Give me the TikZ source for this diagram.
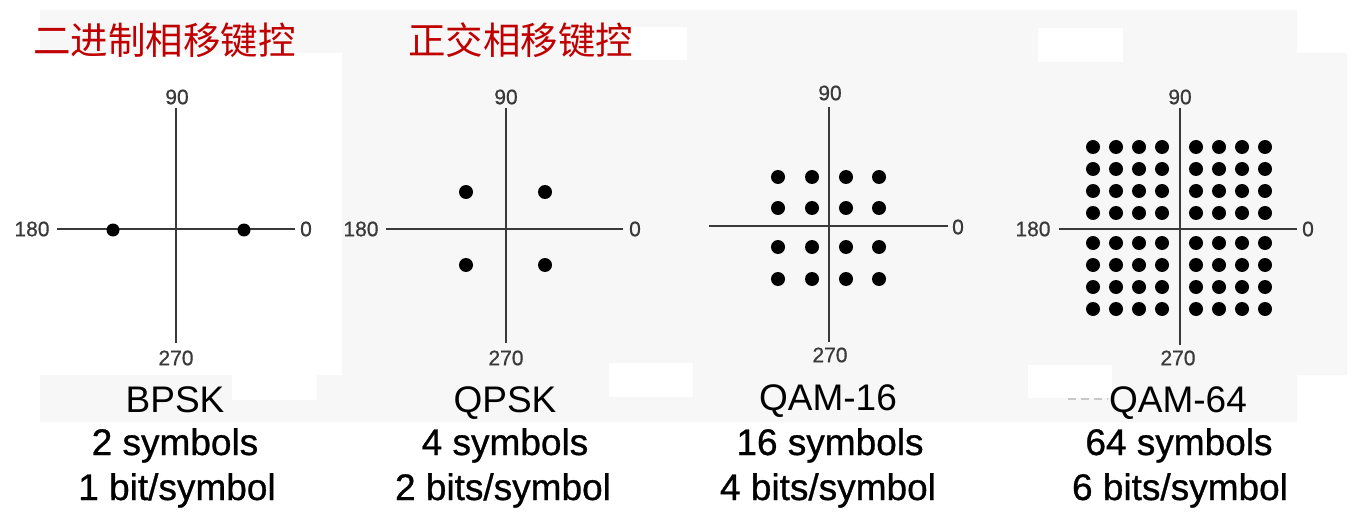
\documentclass[tikz,border=0pt]{standalone}
\usepackage{fontspec}
\setmainfont{Liberation Sans}
\newfontfamily\cjk{Noto Sans CJK SC}
\newfontfamily\heavier[FakeBold=0.8]{Liberation Sans}
\newfontfamily\lblfont[FakeBold=0.7]{Liberation Sans}
\definecolor{panel}{RGB}{247,247,247}
\definecolor{axisc}{RGB}{58,58,58}
\definecolor{titlered}{RGB}{192,0,0}
\definecolor{faint}{RGB}{200,200,200}
\begin{document}
\begin{tikzpicture}[x=1pt,y=-1pt,
  axis/.style={draw=axisc, line width=1.8pt},
  dotc/.style={fill=black},
  anglab/.style={text=axisc, font=\lblfont\fontsize{21}{21}\selectfont, inner sep=0pt},
  titletext/.style={text=titlered, font=\cjk\fontsize{37.5}{38}\selectfont, inner sep=0pt, anchor=west},
  captext/.style={text=black, font=\fontsize{37}{38}\selectfont, inner sep=0pt, anchor=base},
  capbold/.style={captext, font=\heavier\fontsize{37}{38}\selectfont},
]
\useasboundingbox (0,0) rectangle (1353,524);
\fill[white] (0,0) rectangle (1353,524);
% background panels
\fill[panel] (40,10) -- (1297,10) -- (1297,53) -- (1347,53) -- (1347,375) -- (1297,375) -- (1297,422) -- (40,422) -- cycle;
\fill[white] (40,53) rectangle (342,375);
\fill[white] (232,375) rectangle (317,400);
\fill[white] (630,27) rectangle (687,60);
\fill[white] (609,363) rectangle (693,397);
\fill[white] (1038,28) rectangle (1123,62);
\fill[white] (1028,365) rectangle (1112,398);
\draw[faint, line width=1.5pt, dash pattern=on 8pt off 5pt] (1068,399) -- (1108,399);

% titles
\node[titletext] (t1) at (33,40) {二进制相移键控};
\node[titletext] (t2) at (408,40) {正交相移键控};

% BPSK
\draw[axis] (176,108) -- (176,343);
\draw[axis] (57,229) -- (295,229);
\fill[dotc] (113,230) circle (6.5pt);
\fill[dotc] (244,230) circle (6.5pt);
\node[anglab] (b90) at (177,97) {90};
\node[anglab] (b270) at (176,358) {270};
\node[anglab] (b180) at (32,229) {180};
\node[anglab] (b0) at (306,229) {0};

% QPSK
\draw[axis] (506,108) -- (506,343);
\draw[axis] (386,229) -- (623,229);
\foreach \x in {466,545} \foreach \y in {192,265} \fill[dotc] (\x,\y) circle (7pt);
\node[anglab] (q90) at (506,97) {90};
\node[anglab] (q270) at (506,358) {270};
\node[anglab] (q180) at (361,229) {180};
\node[anglab] (q0) at (635,229) {0};

% QAM-16
\draw[axis] (829,107) -- (829,342);
\draw[axis] (709,226) -- (948,226);
\foreach \x in {778,812,846,879} \foreach \y in {177,208,247,279} \fill[dotc] (\x,\y) circle (7pt);
\node[anglab] (s90) at (830,93) {90};
\node[anglab] (s270) at (830,355) {270};
\node[anglab] (s0) at (958,227) {0};

% QAM-64
\draw[axis] (1180,108) -- (1180,345);
\draw[axis] (1059,229) -- (1297,229);
\foreach \x in {1093,1116,1139,1162,1196,1219,1242,1265}
  \foreach \y in {147,169,191,213,243,265,287,309}
    \fill[dotc] (\x,\y) circle (7pt);
\node[anglab] (h90) at (1180,97) {90};
\node[anglab] (h270) at (1178,358) {270};
\node[anglab] (h180) at (1033,229) {180};
\node[anglab] (h0) at (1308,229) {0};

% captions
\node[captext] (c1a) at (175,412) {BPSK};
\node[capbold] (c1b) at (175,455) {2 symbols};
\node[capbold] (c1c) at (177,500) {1 bit/symbol};
\node[captext] (c2a) at (505,412) {QPSK};
\node[capbold] (c2b) at (505,455) {4 symbols};
\node[capbold] (c2c) at (503,500) {2 bits/symbol};
\node[captext] (c3a) at (828,410) {QAM-16};
\node[capbold] (c3b) at (830,455) {16 symbols};
\node[capbold] (c3c) at (828,500) {4 bits/symbol};
\node[captext] (c4a) at (1178,412) {QAM-64};
\node[capbold] (c4b) at (1179,455) {64 symbols};
\node[capbold] (c4c) at (1180,500) {6 bits/symbol};
\end{tikzpicture}
\end{document}
